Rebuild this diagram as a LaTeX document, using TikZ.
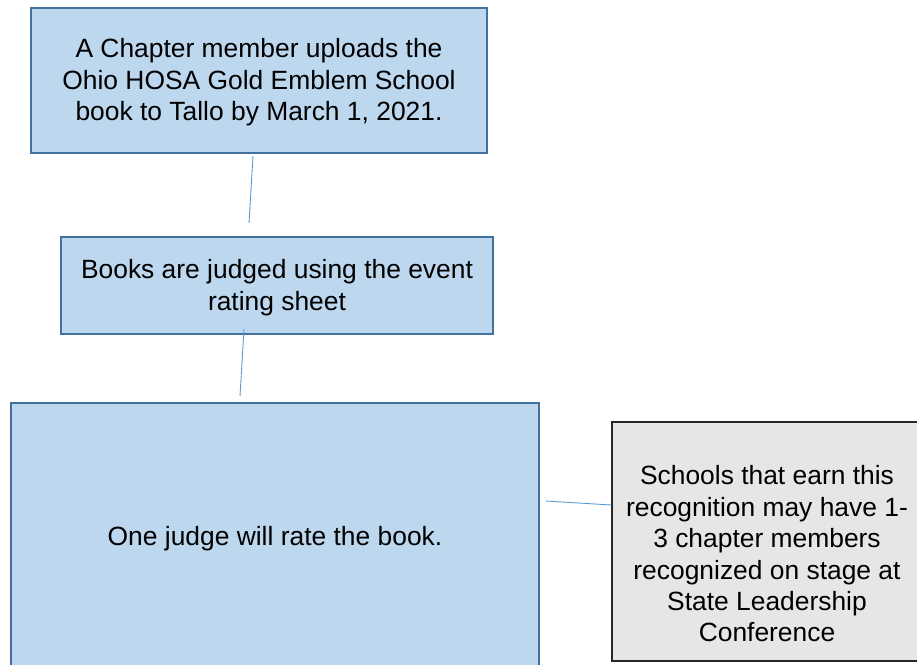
\documentclass[tikz,border=0pt]{standalone}
\usepackage{fontspec}
\setmainfont{Liberation Sans}
\definecolor{boxblue}{HTML}{BDD7EE}
\definecolor{edgeblue}{HTML}{41719C}
\definecolor{lineblue}{HTML}{5B9BD5}
\definecolor{boxgray}{HTML}{E7E6E6}
\definecolor{edgegray}{HTML}{262626}
\begin{document}
\begin{tikzpicture}[x=1pt,y=-1pt,
  bluebox/.style={draw=edgeblue,fill=boxblue,line width=1.8pt,rectangle,inner sep=0pt},
  graybox/.style={draw=edgegray,fill=boxgray,line width=1.3pt,rectangle,inner sep=0pt},
  boxtext/.style={align=center,inner sep=0pt,font=\fontsize{26.4}{31.4}\selectfont},
  link/.style={draw=lineblue,line width=0.9pt}]
\useasboundingbox (0,0) rectangle (917,664);
\node[bluebox,minimum width=456pt,minimum height=145pt] (top) at (259,80.5) {};
\node[boxtext] (toptext) at ([yshift=-2pt]top.center)
  {A Chapter member uploads the\\Ohio HOSA Gold Emblem School\\book to Tallo by March 1, 2021.};
\node[bluebox,minimum width=432pt,minimum height=97pt] (mid) at (277,285.5) {};
\node[boxtext] (midtext) at ([yshift=-2pt]mid.center)
  {Books are judged using the event\\rating sheet};
\node[bluebox,minimum width=528pt,minimum height=266pt] (big) at (275,536) {};
\node[boxtext] (bigtext) at ([yshift=-3pt]big.center)
  {One judge will rate the book.};
\node[graybox,minimum width=310pt,minimum height=239pt] (side) at (767,541.5) {};
\node[boxtext] (sidetext) at ([yshift=-12.5pt]side.center)
  {Schools that earn this\\recognition may have 1-\\3 chapter members\\recognized on stage at\\State Leadership\\Conference};
\draw[link] ([xshift=-6pt,yshift=-2pt]top.south) -- ([xshift=-28pt,yshift=13pt]mid.north);
\draw[link] ([xshift=-33pt,yshift=6pt]mid.south) -- ([xshift=-35pt,yshift=6pt]big.north);
\draw[link] ([xshift=6pt,yshift=35pt]big.east) -- ([yshift=36.5pt]side.west);
\end{tikzpicture}
\end{document}
